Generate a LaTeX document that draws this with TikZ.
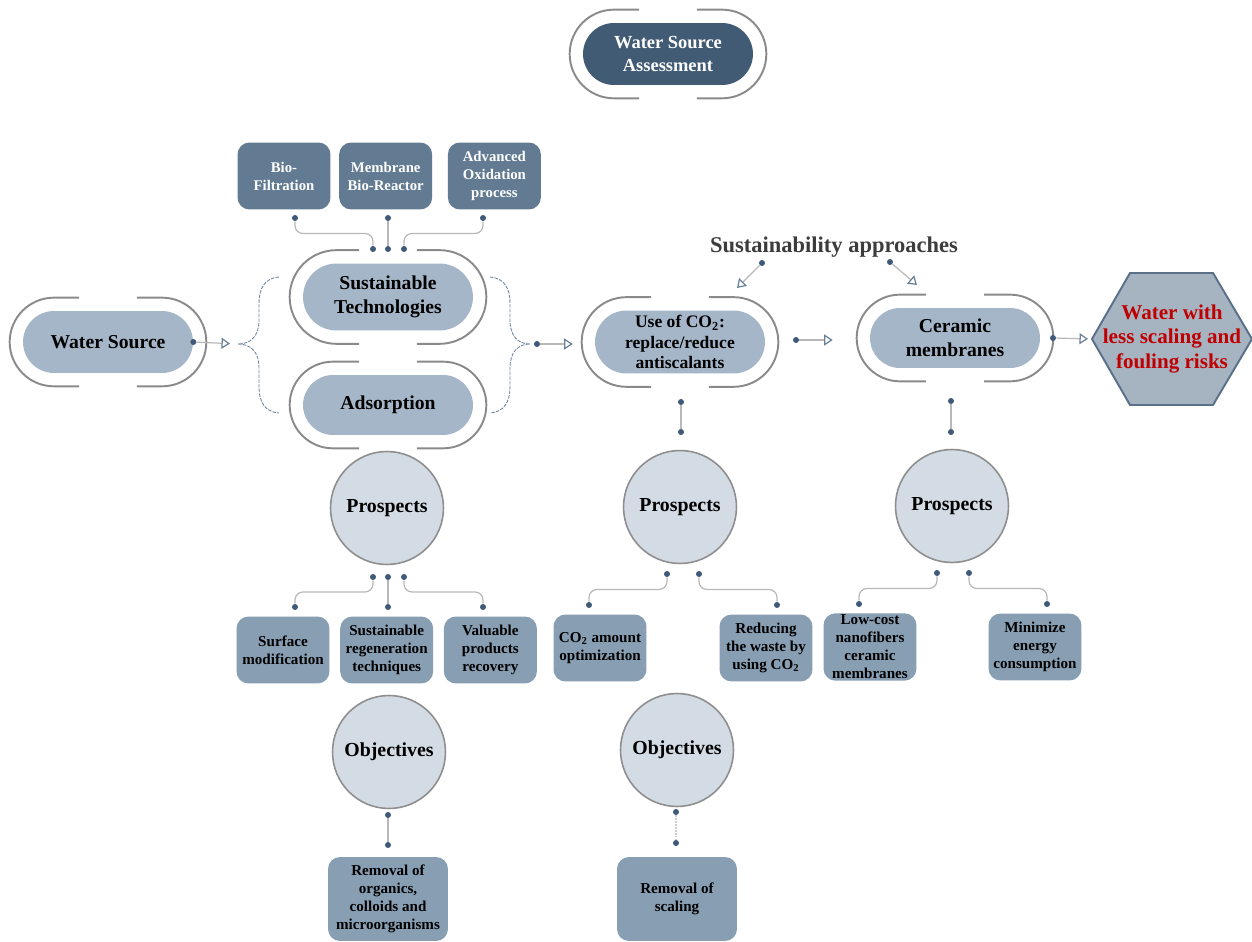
\documentclass[tikz,border=0pt]{standalone}
\usepackage{fontspec}
\setmainfont{Liberation Serif}
\usetikzlibrary{arrows.meta,positioning,shapes.misc,calc}

\definecolor{titlefill}{HTML}{415B74}
\definecolor{pillfill}{HTML}{A5B6C8}
\definecolor{techfill}{HTML}{637B92}
\definecolor{subfill}{HTML}{889EB3}
\definecolor{ballfill}{HTML}{D3DCE5}
\definecolor{ballline}{HTML}{8E8E8E}
\definecolor{halogray}{HTML}{8A8A8A}
\definecolor{dotblue}{HTML}{3E5A78}
\definecolor{linkgray}{HTML}{B8B8B8}
\definecolor{tipblue}{HTML}{6A819A}
\definecolor{braceblue}{HTML}{6F86A0}
\definecolor{hexfill}{HTML}{A6B3C1}
\definecolor{hexline}{HTML}{5A7089}
\definecolor{goalred}{HTML}{C00000}
\definecolor{labelgray}{HTML}{3C3C3C}

% open bracket round a pill, gap at top and bottom
\newcommand{\halo}[1]{%
  \draw[halo] let \p1=(#1.west), \p2=(#1.north), \p3=(#1.east) in
    ({\x2-5.8mm},{\y2+2.6mm}) -- ({\x1+\y2-\y1},{\y2+2.6mm})
      arc[start angle=90, end angle=270, radius={\y2-\y1+2.6mm}] -- ({\x2-5.8mm},{2*\y1-\y2-2.6mm})
    ({\x2+5.8mm},{\y2+2.6mm}) -- ({\x3-\y2+\y1},{\y2+2.6mm})
      arc[start angle=90, end angle=-90, radius={\y2-\y1+2.6mm}] -- ({\x2+5.8mm},{2*\y1-\y2-2.6mm});}

\begin{document}
\begin{tikzpicture}[x=0.02cm, y=-0.02cm,
  pill/.style={rounded rectangle, fill=pillfill, minimum width=34mm, minimum height=12.4mm, inner sep=0pt, align=center, font=\fontsize{11.2}{13.4}\selectfont\bfseries},
  titlepill/.style={pill, fill=titlefill, text=white, font=\fontsize{10.5}{13.5}\selectfont\bfseries},
  halo/.style={draw=halogray, line width=1.1pt},
  techbox/.style={rounded corners=2.4mm, fill=techfill, text=white, minimum width=18.6mm, minimum height=13.4mm, inner sep=1pt, align=center, font=\fontsize{8.4}{10.2}\selectfont\bfseries},
  subbox/.style={techbox, fill=subfill, text=black, font=\fontsize{8.6}{10.2}\selectfont\bfseries},
  ball/.style={circle, fill=ballfill, draw=ballline, line width=0.9pt, minimum size=22.6mm, inner sep=0pt, font=\fontsize{11.3}{13}\selectfont\bfseries},
  dot/.style={circle, fill=dotblue, inner sep=0pt, minimum size=1.2mm},
  link/.style={draw=linkgray, line width=0.7pt, rounded corners=1.6mm},
  flow/.style={draw=linkgray, line width=0.7pt, -{Triangle[open, length=1.7mm, width=2.2mm, color=tipblue]}},
  bracecurve/.style={draw=braceblue, line width=0.5pt, dash pattern=on 2pt off 0.7pt},
  hexshape/.style={fill=hexfill, draw=hexline, line width=1.1pt},
  goal/.style={align=center, text=goalred, font=\fontsize{12}{14}\selectfont\bfseries}]
\useasboundingbox (0,0) rectangle (1252,942);

% main line
\node[titlepill] (title) at (668,54) {Water Source\\Assessment};
\halo{title}
\node[pill] (src) at (108,342) {Water Source};
\halo{src}
\node[pill, minimum height=13.4mm] (tech) at (388,297) {Sustainable\\Technologies};
\halo{tech}
\node[pill, minimum height=12mm] (ads) at (388,405) {Adsorption};
\halo{ads}
\node[pill, minimum height=12.6mm, font=\fontsize{10}{11.8}\selectfont\bfseries] (co2) at (680,342) {Use of CO\textsubscript{2}:\\replace/reduce\\antiscalants};
\halo{co2}
\node[pill, minimum height=12mm] (cer) at (955,338) {Ceramic\\membranes};
\halo{cer}
\coordinate (gc) at (1172,339);
\filldraw[hexshape] ($(gc)+(-80,0)$) coordinate (hexw) -- ($(gc)+(-42,-66)$) -- ($(gc)+(41,-66)$) -- ($(gc)+(80,0)$) -- ($(gc)+(41,66)$) -- ($(gc)+(-42,66)$) -- cycle;
\node[goal] (goalnode) at (gc) {Water with\\less scaling and\\fouling risks};
\node[font=\fontsize{12.8}{14}\selectfont\bfseries, text=labelgray] (appr) at (834,247) {Sustainability approaches};

% braces
\coordinate (lbtip) at (238,344);
\coordinate (rbtip) at (530,344);
\draw[bracecurve] (279,277) .. controls (265,278) and (259,288) .. (259,303) -- (259,320) .. controls (259,336) and (251,344) .. (lbtip) .. controls (251,344) and (259,352) .. (259,368) -- (259,387) .. controls (259,402) and (265,412) .. (279,413);
\draw[bracecurve] (490,277) .. controls (504,278) and (510,288) .. (510,303) -- (510,320) .. controls (510,336) and (518,344) .. (rbtip) .. controls (518,344) and (510,352) .. (510,368) -- (510,387) .. controls (510,402) and (504,412) .. (490,413);

% flow arrows
\node[dot] (srcdot) at (src.east) {};
\node[dot] (rbdot) at (537,344) {};
\node[dot] (co2dot) at (796,340) {};
\node[dot] (cerdot) at (1053,338) {};
\draw[flow, shorten >=1.6mm] (srcdot) -- (lbtip);
\draw[flow, shorten >=4.4mm] (rbdot) -- (rbdot -| co2.west);
\draw[flow, shorten >=7.4mm] (co2dot) -- (co2dot -| cer.west);
\draw[flow, shorten >=0.8mm] (cerdot) -- (hexw);
\node[dot] (ap1) at (762,263) {};
\node[dot] (ap2) at (890,262) {};
\coordinate (aptip1) at (737,288);
\coordinate (aptip2) at (917,285);
\draw[flow] (ap1) -- (aptip1);
\draw[flow] (ap2) -- (aptip2);

% technologies
\node[techbox] (biof) at (284,176) {Bio-\\Filtration};
\node[techbox, right=1.6mm of biof] (mbr) {Membrane\\Bio-Reactor};
\node[techbox, right=3mm of mbr] (aop) {Advanced\\Oxidation\\process};
\node[dot] (t1) at (295,218) {};
\node[dot] (t2) at (388,218) {};
\node[dot] (t3) at (483,218) {};
\node[dot] (s1) at (373,249) {};
\node[dot] (s2) at (388,249) {};
\node[dot] (s3) at (404,249) {};
\draw[link] (t1) |- ($(t1)!0.5!(s1)$) -| (s1);
\draw[link] (t2) -- (s2);
\draw[link] (t3) |- ($(t3)!0.5!(s3)$) -| (s3);

% prospects
\node[ball] (pros1) at (387,508) {Prospects};
\node[ball] (pros2) at (680,507) {Prospects};
\node[ball] (pros3) at (952,506) {Prospects};
\node[dot] (c1) at (681,402) {};
\node[dot] (c2) at (681,432) {};
\node[dot] (m1) at (951,401) {};
\node[dot] (m2) at (951,432) {};
\draw[link] (c1) -- (c2);
\draw[link] (m1) -- (m2);

\node[subbox] (surf) at (283,650) {Surface\\modification};
\node[subbox, right=2mm of surf] (regen) {Sustainable\\regeneration\\techniques};
\node[subbox, right=2mm of regen] (valu) {Valuable\\products\\recovery};
\node[dot] (p1) at (373,577) {};
\node[dot] (p2) at (388,577) {};
\node[dot] (p3) at (404,577) {};
\node[dot] (q1) at (295,607) {};
\node[dot] (q2) at (388,607) {};
\node[dot] (q3) at (483,607) {};
\draw[link] (p1) |- ($(p1)!0.5!(q1)$) -| (q1);
\draw[link] (p2) -- (q2);
\draw[link] (p3) |- ($(p3)!0.5!(q3)$) -| (q3);

\node[subbox] (co2opt) at (600,648) {CO\textsubscript{2} amount\\optimization};
\node[subbox] (waste) at (766,648) {Reducing\\the waste by\\using CO\textsubscript{2}};
\node[dot] (p4) at (667,574) {};
\node[dot] (p5) at (699,574) {};
\node[dot] (q4) at (589,605) {};
\node[dot] (q5) at (777,605) {};
\draw[link] (p4) |- ($(p4)!0.5!(q4)$) -| (q4);
\draw[link] (p5) |- ($(p5)!0.5!(q5)$) -| (q5);

\node[subbox] (lowcost) at (870,647) {Low-cost\\nanofibers\\ceramic\\membranes};
\node[subbox] (minen) at (1035,647) {Minimize\\energy\\consumption};
\node[dot] (p6) at (937,573) {};
\node[dot] (p7) at (969,573) {};
\node[dot] (q6) at (859,604) {};
\node[dot] (q7) at (1047,604) {};
\draw[link] (p6) |- ($(p6)!0.5!(q6)$) -| (q6);
\draw[link] (p7) |- ($(p7)!0.5!(q7)$) -| (q7);

% objectives
\node[ball] (obj1) at (389,752) {Objectives};
\node[ball] (obj2) at (677,750) {Objectives};
\node[dot] (o1) at (388,815) {};
\node[dot] (o2) at (388,845) {};
\node[dot] (o3) at (676,812) {};
\node[dot] (o4) at (676,843) {};
\draw[link] (o1) -- (o2);
\draw[link, draw=linkgray!70, densely dotted] (o3) -- (o4);
\node[subbox, minimum width=24mm, minimum height=16.8mm] (rem1) at (388,899) {Removal of\\organics,\\colloids and\\microorganisms};
\node[subbox, minimum width=24mm, minimum height=16.8mm] (rem2) at (677,899) {Removal of\\scaling};
\end{tikzpicture}
\end{document}
